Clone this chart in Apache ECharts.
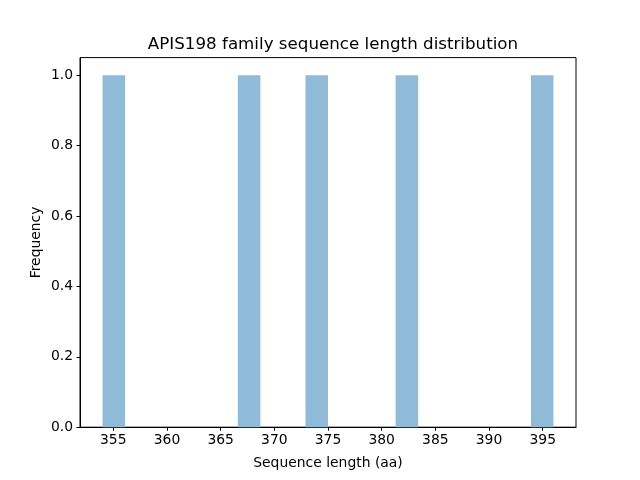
<!DOCTYPE html>
<html>
<head>
<meta charset="utf-8">
<script src="https://cdn.jsdelivr.net/npm/echarts@6/dist/echarts.min.js"></script>
<style>html,body{margin:0;padding:0;background:#fff}#c{width:640px;height:480px}</style>
</head>
<body>
<div id="c"></div>
<script>
// Histogram: 20 bins from 354 to 396 (width 2.1)
const binStarts = [354.0,356.1,358.2,360.3,362.4,364.5,366.6,368.7,370.8,372.9,375.0,377.1,379.2,381.3,383.4,385.5,387.6,389.7,391.8,393.9];
const binEnds   = [356.1,358.2,360.3,362.4,364.5,366.6,368.7,370.8,372.9,375.0,377.1,379.2,381.3,383.4,385.5,387.6,389.7,391.8,393.9,396.0];
const counts    = [1,0,0,0,0,0,1,0,0,1,0,0,0,1,0,0,0,0,0,1];
const xTicks = [355,360,365,370,375,380,385,390,395];
const yTicks = [0,0.2,0.4,0.6,0.8,1.0];

const data = binStarts.map((s,i)=>[s, binEnds[i], counts[i]]);
const font = 'DejaVu Sans';
const chart = echarts.init(document.getElementById('c'), null, {renderer:'canvas'});
chart.setOption({
  animation:false,
  backgroundColor:'#fff',
  title:{text:'APIS198 family sequence length distribution', left:328, top:31, textAlign:'center',
    textStyle:{fontFamily:font,fontSize:16.7,fontWeight:'normal',color:'#000'}},
  grid:{left:80,right:64,top:57.6,bottom:52.8,show:true,borderColor:'#000',borderWidth:1,backgroundColor:'transparent'},
  xAxis:{type:'value',min:351.9,max:398.1,
    name:'Sequence length (aa)',nameLocation:'middle',nameGap:29,
    nameTextStyle:{fontFamily:font,fontSize:13.9,color:'#000'},
    axisLine:{show:true,lineStyle:{color:'#000',width:1}},
    axisTick:{show:true,inside:false,length:3.5,lineStyle:{color:'#000'},customValues:xTicks},
    axisLabel:{fontFamily:font,fontSize:13.9,color:'#000',margin:6,customValues:xTicks,formatter:v=>String(v)},
    splitLine:{show:false}},
  yAxis:{type:'value',min:0,max:1.05,
    name:'Frequency',nameLocation:'middle',nameGap:37,nameRotate:90,nameMoveOverlap:false,
    nameTextStyle:{fontFamily:font,fontSize:13.9,color:'#000'},
    axisLine:{show:true,lineStyle:{color:'#000',width:1}},
    axisTick:{show:true,inside:false,length:3.5,lineStyle:{color:'#000'},customValues:yTicks},
    axisLabel:{fontFamily:font,fontSize:13.9,color:'#000',margin:7,customValues:yTicks,formatter:v=>v.toFixed(1)},
    splitLine:{show:false}},
  series:[{
    type:'custom',
    data:data,
    encode:{x:[0,1],y:2},
    itemStyle:{borderWidth:0},
    renderItem:function(params,api){
      const p0 = api.coord([api.value(0), api.value(2)]);
      const p1 = api.coord([api.value(1), 0]);
      return {type:'rect',shape:{x:p0[0],y:p0[1],width:p1[0]-p0[0],height:p1[1]-p0[1]},
        style:{fill:'#8fbbd9',stroke:'transparent',lineWidth:0}};
    }
  }]
});
</script>
</body>
</html>
